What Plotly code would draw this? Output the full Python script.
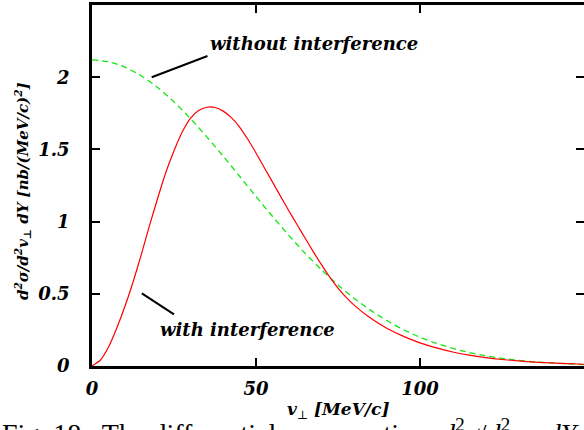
import plotly.graph_objects as go

# ---- data ----
v_green = [0, 5, 10, 15, 20, 25, 30, 35, 40, 45, 50, 55, 60, 65, 70, 75, 80, 85, 90,
           95, 100, 105, 110, 115, 120, 125, 130, 135, 140, 145, 150]
without_interf = [2.12, 2.107, 2.07, 2.01, 1.929, 1.829, 1.714, 1.587, 1.453, 1.314, 1.174,
                  1.037, 0.905, 0.78, 0.666, 0.561, 0.467, 0.385, 0.313, 0.251, 0.199,
                  0.157, 0.122, 0.093, 0.071, 0.053, 0.039, 0.029, 0.021, 0.015, 0.010]
v_red = [0, 2.5, 5, 7.5, 10, 12.5, 15, 17.5, 20, 22.5, 25, 27.5, 30, 32.5, 35, 37.5,
         40, 42.5, 45, 47.5, 50, 52.5, 55, 57.5, 60, 62.5, 65, 67.5, 70, 72.5, 75, 77.5,
         80, 85, 90, 95, 100, 105, 110, 115, 120, 125, 130, 135, 140, 145, 150]
with_interf = [0, 0.04, 0.13, 0.26, 0.41, 0.58, 0.77, 0.97, 1.16, 1.34, 1.49, 1.62, 1.715,
               1.77, 1.792, 1.79, 1.765, 1.72, 1.655, 1.57, 1.475, 1.375, 1.275, 1.175,
               1.075, 0.98, 0.885, 0.79, 0.70, 0.615, 0.54, 0.475, 0.42, 0.33, 0.26,
               0.205, 0.16, 0.125, 0.097, 0.075, 0.058, 0.045, 0.035, 0.027, 0.021,
               0.016, 0.012]
x_ticks = [0, 50, 100]
x_tick_labels = ["0", "50", "100"]
y_ticks = [0, 0.5, 1, 1.5, 2, 2.5]
y_tick_labels = ["0", "0.5", "1", "1.5", "2", "2.5"]

# label annotations (text, anchor point in data coords) and pointer segments
label_without = "without interference"
label_with = "with interference"
label_without_pos = (35.4, 2.235)
label_with_pos = (20.1, 0.255)
pointer_without = [(18.2, 2.0), (35.2, 2.147)]
pointer_with = [(15.2, 0.503), (25.0, 0.358)]

x_title = "<i><b>v</b></i><sub>⊥</sub><b><i> [MeV/c]</i></b>"
y_title = "<b><i>d<sup>2</sup>σ/d<sup>2</sup>v<sub>⊥</sub> dY [nb/(MeV/c)<sup>2</sup>]</i></b>"
caption = ("Fig. 18.  The differential cross section  <i>d</i><sup>2</sup><i>σ</i>/"
           "<i>d</i><sup>2</sup><i>v</i><sub>⊥</sub> <i>dY</i>")

FONT = "DejaVu Serif"
W, H = 584, 430
ML, MR, MT, MB = 92, 0, 5, 64
PW, PH = W - ML - MR, H - MT - MB

fig = go.Figure()
fig.add_trace(go.Scatter(x=v_green, y=without_interf, mode="lines",
                         line=dict(color="#11e611", width=1.3, dash="6px,4px",
                                   shape="spline", smoothing=0.8),
                         showlegend=False, hoverinfo="skip"))
fig.add_trace(go.Scatter(x=v_red, y=with_interf, mode="lines",
                         line=dict(color="#ff0000", width=1.2, shape="spline", smoothing=0.6),
                         showlegend=False, hoverinfo="skip"))
# empty trace to create the right-side tick axis
fig.add_trace(go.Scatter(x=[None], y=[None], yaxis="y2", showlegend=False, hoverinfo="skip"))

tickfont = dict(family=FONT, size=18, color="black", weight="bold", style="italic")

fig.update_layout(
    width=W, height=H,
    margin=dict(l=ML, r=MR, t=MT, b=MB, pad=0),
    paper_bgcolor="white", plot_bgcolor="white",
    xaxis=dict(range=[0, 150], tickvals=x_ticks, ticktext=x_tick_labels,
               ticks="inside", ticklen=8, tickwidth=2, tickcolor="black",
               showline=True, linecolor="black", linewidth=2.5, mirror="ticks",
               showgrid=False, zeroline=False, tickfont=tickfont,
               ticklabelstandoff=5),
    yaxis=dict(range=[0, 2.5], tickvals=y_ticks, ticktext=y_tick_labels,
               ticks="inside", ticklen=8, tickwidth=2, tickcolor="black",
               showline=True, linecolor="black", linewidth=2.5, mirror=False,
               showgrid=False, zeroline=False, tickfont=tickfont,
               ticklabelstandoff=16),
    yaxis2=dict(range=[0, 2.5], tickvals=y_ticks, overlaying="y", side="right",
                anchor="x", ticks="inside", ticklen=8, tickwidth=2, tickcolor="black",
                showline=False, showticklabels=False, showgrid=False, zeroline=False),
)

lab_font = dict(family=FONT, size=18, color="black", weight="bold", style="italic")
annots = [
    dict(x=label_without_pos[0], y=label_without_pos[1], xref="x", yref="y",
         text=label_without, showarrow=False, xanchor="left", yanchor="middle", font=lab_font),
    dict(x=label_with_pos[0], y=label_with_pos[1], xref="x", yref="y",
         text=label_with, showarrow=False, xanchor="left", yanchor="middle", font=lab_font),
    dict(x=0.5, y=(H - MB - 410) / PH, xref="paper", yref="paper",
         text=x_title, showarrow=False, xanchor="center", yanchor="middle",
         font=dict(family=FONT, size=17, color="black")),
    dict(x=(22 - ML) / PW, y=(H - MB - 191) / PH, xref="paper", yref="paper",
         text=y_title, showarrow=False, textangle=-90, xanchor="center", yanchor="middle",
         font=dict(family=FONT, size=15, color="black")),
    dict(x=-ML / PW, y=(H - MB - 412) / PH, xref="paper", yref="paper",
         text=caption, showarrow=False, xanchor="left", yanchor="top",
         font=dict(family="Liberation Serif", size=28, color="black")),
]
fig.update_layout(annotations=annots)

for seg in (pointer_without, pointer_with):
    fig.add_shape(type="line", xref="x", yref="y",
                  x0=seg[0][0], y0=seg[0][1], x1=seg[1][0], y1=seg[1][1],
                  line=dict(color="black", width=2))

fig.write_html("out.html")
